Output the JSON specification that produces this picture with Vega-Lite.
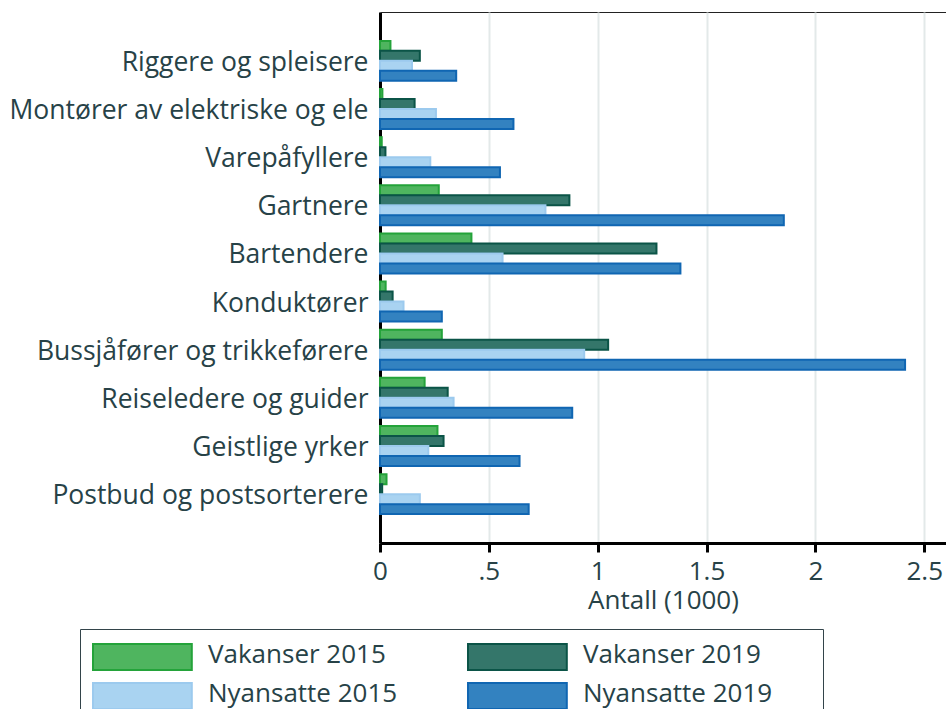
{
  "$schema": "https://vega.github.io/schema/vega-lite/v6.json",
  "autosize": "none",
  "width": 566,
  "height": 531,
  "padding": {"left": 380, "top": 12, "right": 0, "bottom": 166},
  "background": "white",
  "config": {
    "font": "Open Sans",
    "view": {"stroke": "#222", "strokeWidth": 1}
  },
  "data": {
    "values": [
      {"yrke": "Riggere og spleisere", "serie": "Vakanser 2015", "antall": 0.048},
      {"yrke": "Riggere og spleisere", "serie": "Vakanser 2019", "antall": 0.183},
      {"yrke": "Riggere og spleisere", "serie": "Nyansatte 2015", "antall": 0.147},
      {"yrke": "Riggere og spleisere", "serie": "Nyansatte 2019", "antall": 0.35},
      {"yrke": "Montører av elektriske og ele", "serie": "Vakanser 2015", "antall": 0.011},
      {"yrke": "Montører av elektriske og ele", "serie": "Vakanser 2019", "antall": 0.159},
      {"yrke": "Montører av elektriske og ele", "serie": "Nyansatte 2015", "antall": 0.257},
      {"yrke": "Montører av elektriske og ele", "serie": "Nyansatte 2019", "antall": 0.613},
      {"yrke": "Varepåfyllere", "serie": "Vakanser 2015", "antall": 0.008},
      {"yrke": "Varepåfyllere", "serie": "Vakanser 2019", "antall": 0.025},
      {"yrke": "Varepåfyllere", "serie": "Nyansatte 2015", "antall": 0.231},
      {"yrke": "Varepåfyllere", "serie": "Nyansatte 2019", "antall": 0.551},
      {"yrke": "Gartnere", "serie": "Vakanser 2015", "antall": 0.27},
      {"yrke": "Gartnere", "serie": "Vakanser 2019", "antall": 0.87},
      {"yrke": "Gartnere", "serie": "Nyansatte 2015", "antall": 0.76},
      {"yrke": "Gartnere", "serie": "Nyansatte 2019", "antall": 1.855},
      {"yrke": "Bartendere", "serie": "Vakanser 2015", "antall": 0.42},
      {"yrke": "Bartendere", "serie": "Vakanser 2019", "antall": 1.27},
      {"yrke": "Bartendere", "serie": "Nyansatte 2015", "antall": 0.563},
      {"yrke": "Bartendere", "serie": "Nyansatte 2019", "antall": 1.38},
      {"yrke": "Konduktører", "serie": "Vakanser 2015", "antall": 0.026},
      {"yrke": "Konduktører", "serie": "Vakanser 2019", "antall": 0.058},
      {"yrke": "Konduktører", "serie": "Nyansatte 2015", "antall": 0.108},
      {"yrke": "Konduktører", "serie": "Nyansatte 2019", "antall": 0.284},
      {"yrke": "Bussjåfører og trikkeførere", "serie": "Vakanser 2015", "antall": 0.284},
      {"yrke": "Bussjåfører og trikkeførere", "serie": "Vakanser 2019", "antall": 1.048},
      {"yrke": "Bussjåfører og trikkeførere", "serie": "Nyansatte 2015", "antall": 0.938},
      {"yrke": "Bussjåfører og trikkeførere", "serie": "Nyansatte 2019", "antall": 2.412},
      {"yrke": "Reiseledere og guider ", "serie": "Vakanser 2015", "antall": 0.205},
      {"yrke": "Reiseledere og guider ", "serie": "Vakanser 2019", "antall": 0.311},
      {"yrke": "Reiseledere og guider ", "serie": "Nyansatte 2015", "antall": 0.338},
      {"yrke": "Reiseledere og guider ", "serie": "Nyansatte 2019", "antall": 0.883},
      {"yrke": "Geistlige yrker", "serie": "Vakanser 2015", "antall": 0.264},
      {"yrke": "Geistlige yrker", "serie": "Vakanser 2019", "antall": 0.292},
      {"yrke": "Geistlige yrker", "serie": "Nyansatte 2015", "antall": 0.222},
      {"yrke": "Geistlige yrker", "serie": "Nyansatte 2019", "antall": 0.641},
      {"yrke": "Postbud og postsorterere", "serie": "Vakanser 2015", "antall": 0.03},
      {"yrke": "Postbud og postsorterere", "serie": "Vakanser 2019", "antall": 0.01},
      {"yrke": "Postbud og postsorterere", "serie": "Nyansatte 2015", "antall": 0.183},
      {"yrke": "Postbud og postsorterere", "serie": "Nyansatte 2019", "antall": 0.683}
    ]
  },
  "mark": {"type": "bar", "strokeWidth": 2},
  "encoding": {
    "y": {
      "field": "yrke",
      "type": "nominal",
      "sort": null,
      "title": null,
      "scale": {"paddingInner": 0.17, "paddingOuter": 0.6},
      "axis": {
        "domainColor": "#000",
        "domainWidth": 3,
        "ticks": false,
        "labelFontSize": 26.5,
        "labelColor": "#274247",
        "labelPadding": 12,
        "labelOffset": 2,
        "labelLimit": 420,
        "grid": false
      }
    },
    "yOffset": {
      "field": "serie",
      "type": "nominal",
      "sort": ["Vakanser 2015", "Vakanser 2019", "Nyansatte 2015", "Nyansatte 2019"],
      "scale": {"paddingInner": 0, "paddingOuter": 0}
    },
    "x": {
      "field": "antall",
      "type": "quantitative",
      "title": "Antall (1000)",
      "scale": {"domain": [0, 2.6], "nice": false, "zero": true},
      "axis": {
        "values": [0, 0.5, 1, 1.5, 2, 2.5],
        "labelExpr": "datum.value == 0.5 ? '.5' : format(datum.value, '~g')",
        "domainColor": "#000",
        "domainWidth": 3,
        "tickColor": "#000",
        "tickWidth": 3,
        "tickSize": 9,
        "labelFontSize": 26,
        "labelColor": "#274247",
        "labelPadding": 6,
        "labelFlush": false,
        "titleFontSize": 26,
        "titleFontWeight": "normal",
        "titleColor": "#274247",
        "titlePadding": 3,
        "grid": true,
        "gridColor": "#e3e9e9",
        "gridWidth": 2
      }
    },
    "fill": {
      "field": "serie",
      "type": "nominal",
      "title": null,
      "scale": {
        "domain": ["Vakanser 2015", "Vakanser 2019", "Nyansatte 2015", "Nyansatte 2019"],
        "range": ["#4fb55f", "#34766a", "#a9d3f1", "#3382c0"]
      },
      "legend": {
        "orient": "none",
        "legendX": -300,
        "legendY": 617,
        "direction": "horizontal",
        "columns": 2,
        "columnPadding": 66,
        "rowPadding": 4,
        "padding": 12,
        "strokeColor": "#33444a",
        "symbolType": "M-1,-0.85H6.6V1.15H-1Z",
        "symbolSize": 676,
        "symbolStrokeWidth": 2,
        "symbolOpacity": 1,
        "labelOffset": 88,
        "labelFontSize": 26,
        "labelColor": "#274247",
        "labelLimit": 400,
        "labelExpr": "indexof(datum.label, '2019') >= 0 ? datum.label + '\u2800\u2800' : datum.label"
      }
    },
    "stroke": {
      "field": "serie",
      "type": "nominal",
      "title": null,
      "scale": {
        "domain": ["Vakanser 2015", "Vakanser 2019", "Nyansatte 2015", "Nyansatte 2019"],
        "range": ["#24a33a", "#0b5447", "#9ccaee", "#1066b2"]
      }
    }
  }
}
